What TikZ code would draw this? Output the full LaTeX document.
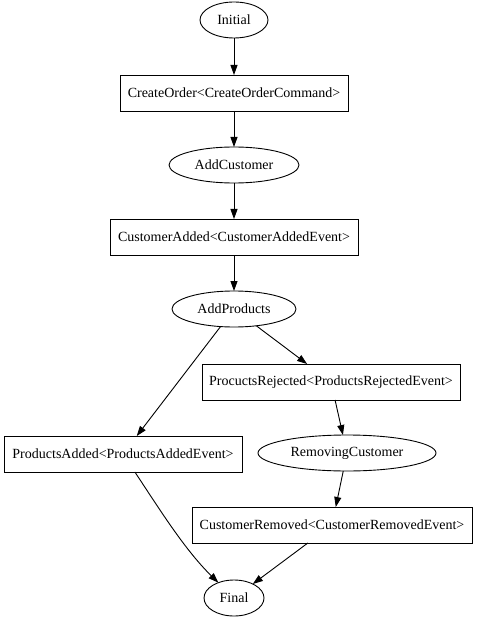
\documentclass[tikz,border=0pt]{standalone}
\usepackage{fontspec}
\setmainfont{Liberation Serif}
\usetikzlibrary{shapes.geometric,arrows.meta}
\begin{document}
\begin{tikzpicture}[x=1pt,y=-1pt,
  every node/.style={font=\fontsize{14}{16}\selectfont, inner sep=0pt, outer sep=0pt, line width=0.9pt},
  st/.style={draw, ellipse, minimum height=36pt},
  ev/.style={draw, rectangle, minimum height=36pt},
  edge/.style={draw, line width=0.9pt, -{Triangle[length=10pt,width=7pt]}}]
\useasboundingbox (0,0) rectangle (477,620);
\node[st, minimum width=68pt] (init) at (234,20) {Initial};
\node[ev, minimum width=228pt] (co) at (234,93) {CreateOrder<CreateOrderCommand>};
\node[st, minimum width=130pt] (ac) at (234,165) {AddCustomer};
\node[ev, minimum width=248pt] (ca) at (234,237) {CustomerAdded<CustomerAddedEvent>};
\node[st, minimum width=124pt] (ap) at (234,309) {AddProducts};
\node[ev, minimum width=258pt] (pr) at (331,382) {ProcuctsRejected<ProductsRejectedEvent>};
\node[ev, minimum width=238pt] (pa) at (123,454) {ProductsAdded<ProductsAddedEvent>};
\node[st, minimum width=178pt] (rc) at (347,453) {RemovingCustomer};
\node[ev, minimum width=280pt] (cr) at (332,525) {CustomerRemoved<CustomerRemovedEvent>};
\node[st, minimum width=60pt] (fin) at (234,598) {Final};
\draw[edge] (init) -- (co);
\draw[edge] (co) -- (ac);
\draw[edge] (ac) -- (ca);
\draw[edge] (ca) -- (ap);
\draw[edge] (ap) -- (pr);
\draw[edge] (ap) -- (pa);
\draw[edge] (pr) -- (rc);
\draw[edge] (rc) -- (cr);
\draw[edge] (pa) .. controls (160,510) and (185,550) .. (fin);
\draw[edge] (cr) -- (fin);
\end{tikzpicture}
\end{document}
